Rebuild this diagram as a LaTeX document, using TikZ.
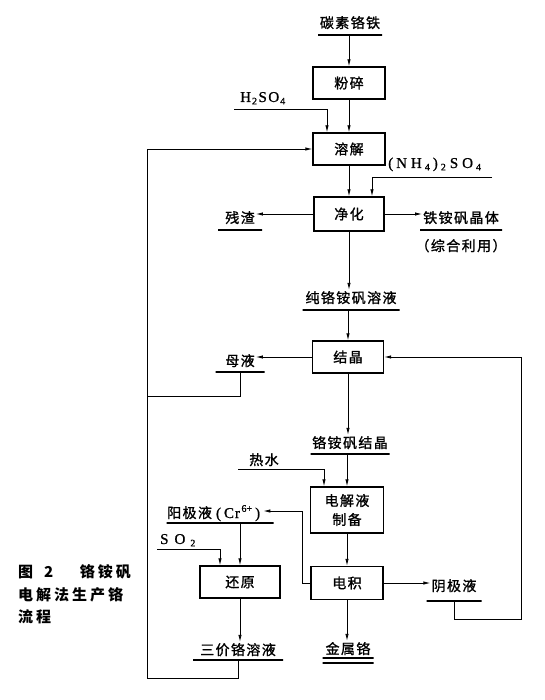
\documentclass[tikz,border=0pt]{standalone}
\usepackage{fontspec}
\setmainfont{Liberation Serif}
\newfontfamily\cjk[LetterSpace=10,FakeBold=1.2]{Noto Sans CJK SC}
\newfontfamily\capfont[LetterSpace=20]{Noto Sans CJK SC}
\newfontfamily\chem[FakeBold=1]{Liberation Serif}
\newcommand\chsub[1]{\raisebox{-0.35ex}{\fontsize{10}{10}\selectfont #1}}
\newcommand\chsup[1]{\raisebox{0.9ex}{\fontsize{10}{10}\selectfont #1}}
\usetikzlibrary{arrows.meta}
\tikzset{
  box/.style={draw, line width=1.3pt, inner sep=0pt, align=center,
    font=\cjk\fontsize{14}{19}\selectfont},
  lab/.style={inner sep=1pt, font=\cjk\fontsize{14}{17}\selectfont},
  chemlab/.style={inner sep=1pt, font=\chem\fontsize{15}{17}\selectfont},
  ul/.style={draw, line width=1.2pt, minimum width=#1, minimum height=0pt, inner sep=0pt},
  conn/.style={line width=0.8pt},
  arr/.style={conn, -{Latex[length=7pt,width=3.4pt]}},
  capst/.style={inner sep=0pt, font=\capfont\bfseries\fontsize{15}{18}\selectfont},
}
\begin{document}
\begin{tikzpicture}[x=1pt,y=-1pt]
\useasboundingbox (0,0) rectangle (544,700);
% process boxes
\node[box, minimum width=72pt, minimum height=32pt] (fs) at (349,83) {粉碎};
\node[box, minimum width=72pt, minimum height=32pt] (rj) at (349,149) {溶解};
\node[box, minimum width=70pt, minimum height=34pt] (jh) at (349,214) {净化};
\node[box, minimum width=71pt, minimum height=32pt] (jj) at (348,357) {结晶};
\node[box, minimum width=73pt, minimum height=46pt] (dj) at (347,510) {电解液\\制备};
\node[box, minimum width=72pt, minimum height=33pt] (dz) at (347,583) {电积};
\node[box, minimum width=80pt, minimum height=32pt] (hy) at (240,582) {还原};
% labels and underlines
\node[lab, anchor=base] (t1) at (350,28) {碳素铬铁};
\node[ul=64pt] (u1) at (350,35) {};
\node[chemlab, anchor=base west] (h2) at (239,102) {H\kern1pt\chsub{2}\kern1.5pt S\kern1.5pt O\kern1pt\chsub{4}};
\coordinate (hs) at (234,109);
\node[chemlab, anchor=base west] (nh4) at (387,168) {(\kern3pt N\kern4pt H\kern3pt\chsub{4}\kern3pt)\kern3pt\chsub{2}\kern4pt S\kern4pt O\kern3pt\chsub{4}};
\coordinate (nh) at (492,177);
\node[lab, anchor=base] (cz) at (240,223) {残渣};
\node[ul=44pt] (ucz) at (240,230) {};
\node[lab, anchor=base] (tz) at (461,223) {铁铵矾晶体};
\node[ul=82pt] (utz) at (461,230) {};
\node[lab, anchor=base] (zh) at (461,251) {（综合利用）};
\node[lab, anchor=base] (cl) at (351,303) {纯铬铵矾溶液};
\node[ul=97pt] (ucl) at (351,310) {};
\node[lab, anchor=base] (my) at (240,366) {母液};
\node[ul=49pt] (umy) at (240,372) {};
\node[lab, anchor=base] (gj) at (350,448) {铬铵矾结晶};
\node[ul=79pt] (ugj) at (350,454) {};
\node[lab, anchor=base] (rsh) at (264,465) {热水};
\coordinate (rs) at (238,469);
\node[lab, anchor=base west] (yj) at (166,518) {阳极液\kern4pt{\chem\fontsize{15}{17}\selectfont(\kern3pt C\kern1pt r\kern1.5pt\chsup{6+}\kern3pt)}};
\node[ul=107pt] (uyj) at (220,523) {};
\node[chemlab, anchor=base west] (so2) at (159,544) {S\kern6pt O\kern5pt\chsub{2}};
\coordinate (so) at (157,549);
\node[lab, anchor=base] (sj) at (238,655) {三价铬溶液};
\node[ul=90pt] (usj) at (238,660) {};
\node[lab, anchor=base] (yin) at (454,591) {阴极液};
\node[ul=55pt] (uyin) at (454,601) {};
\node[lab, anchor=base] (js) at (348,654) {金属铬};
\node[ul=51pt] (ujs1) at (348,658) {};
\node[ul=51pt] (ujs2) at (348,663) {};
% connectors
\draw[arr] (u1.south -| fs.north) -- (fs.north);
\draw[arr] (fs) -- (rj);
\draw[arr] (hs) -| ([xshift=-22pt]rj.north);
\draw[arr] (rj) -- (jh);
\draw[arr] (nh) -| ([xshift=23pt]jh.north);
\draw[arr] (jh.west) -- (jh.west -| cz.east);
\draw[arr] (jh.east) -- (jh.east -| tz.west);
\draw[arr] (jh.south) -- (jh.south |- cl.north);
\draw[arr] (ucl.south -| jj.north) -- (jj.north);
\draw[arr] (jj.west) -- (jj.west -| my.east);
\draw[arr] (jj.south) -- (jj.south |- gj.north);
\draw[arr] (ugj.south -| dj.north) -- (dj.north);
\draw[arr] (rs) -| ([xshift=-23pt]dj.north);
\draw[arr] (dj) -- (dz);
\draw[arr] (dz.west) -- ++(-8,0) |- ([xshift=2pt]yj.east |- 0,511);
\draw[arr] (uyj.south -| hy.north) -- (hy.north);
\draw[arr] (so) -| ([xshift=-20pt]hy.north);
\draw[arr] (hy.south) -- (hy.south |- sj.north);
\draw[arr] (dz.east) -- (dz.east -| yin.west);
\draw[arr] (dz.south) -- (dz.south |- js.north);
\coordinate (rc) at (521,619);
\draw[arr] (uyin) |- (rc) |- (jj.east);
\coordinate (lc) at (147,678);
\draw[arr] (usj) |- (lc) |- (rj.west);
\draw[conn] (umy) |- (lc |- 0,396);
% caption
\node[capst, anchor=base west] (c1a) at (18,577) {图};
\node[capst, anchor=base west] (c1b) at (44,577) {2};
\node[capst, anchor=base east] (c1c) at (131,577) {铬铵矾};
\node[capst, anchor=base west] (c2) at (18,600) {电解法生产铬};
\node[capst, anchor=base west] (c3) at (18,622) {流程};
\end{tikzpicture}
\end{document}
